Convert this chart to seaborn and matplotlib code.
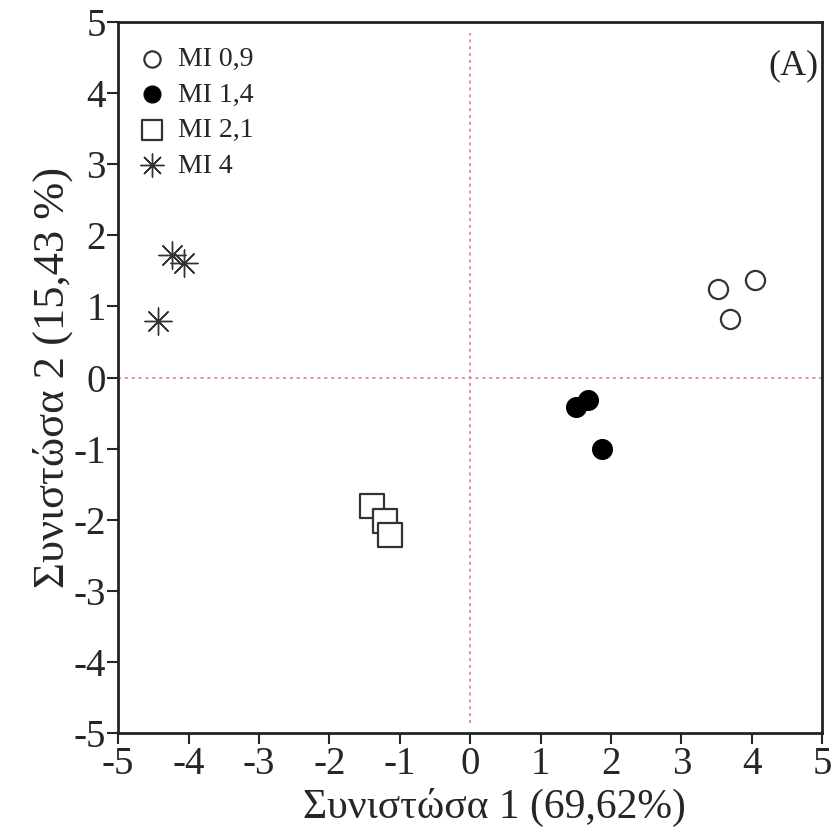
import matplotlib
matplotlib.use("Agg")
import matplotlib.pyplot as plt
import seaborn as sns
import pandas as pd

groups = ["MI 0,9", "MI 1,4", "MI 2,1", "MI 4"]
x_mi09 = [3.52, 4.05, 3.69]
y_mi09 = [1.24, 1.37, 0.83]
x_mi14 = [1.50, 1.68, 1.87]
y_mi14 = [-0.42, -0.31, -1.00]
x_mi21 = [-1.39, -1.21, -1.14]
y_mi21 = [-1.80, -2.01, -2.21]
x_mi4 = [-4.23, -4.06, -4.43]
y_mi4 = [1.72, 1.61, 0.80]
ticks = [-5, -4, -3, -2, -1, 0, 1, 2, 3, 4, 5]

xs = [x_mi09, x_mi14, x_mi21, x_mi4]
ys = [y_mi09, y_mi14, y_mi21, y_mi4]
rows = []
for g, xv, yv in zip(groups, xs, ys):
    for a, b in zip(xv, yv):
        rows.append({"g": g, "x": a, "y": b})
df = pd.DataFrame(rows)

sns.set_style("white")
plt.rcParams["font.family"] = ["Liberation Serif", "DejaVu Serif"]

fig = plt.figure(figsize=(8.38, 8.4), dpi=100)
ax = fig.add_axes([0.141, 0.127, 0.840, 0.847])

ax.axhline(0, color="#e0708a", linestyle=(0, (2, 2.5)), linewidth=1.1, zorder=1)
ax.axvline(0, color="#e0708a", linestyle=(0, (2, 2.5)), linewidth=1.1, zorder=1, ymax=0.985, ymin=0.015)

styles = {
    "MI 0,9": dict(marker="o", s=190, facecolor="white", edgecolor="#333333", linewidth=1.6),
    "MI 1,4": dict(marker="o", s=200, facecolor="black", edgecolor="black", linewidth=1.0),
    "MI 2,1": dict(marker="s", s=300, facecolor="white", edgecolor="#333333", linewidth=1.6),
    "MI 4": dict(marker=(8, 2, 0), s=380, color="#333333", linewidth=1.0),
}
for g in groups:
    sub = df[df["g"] == g]
    sns.scatterplot(data=sub, x="x", y="y", ax=ax, label=g, zorder=3, **styles[g])

ax.set_xlim(-5, 5)
ax.set_ylim(-5, 5)
ax.set_xticks(ticks)
ax.set_yticks(ticks)
ax.set_xticklabels([str(t) for t in ticks])
ax.set_yticklabels([str(t) for t in ticks])
ax.tick_params(axis="both", labelsize=28, direction="out", length=8, width=1.5,
               bottom=True, left=True, pad=1)
for sp in ax.spines.values():
    sp.set_linewidth(2)
    sp.set_color("#222222")

ax.set_xlabel("Συνιστώσα 1 (69,62%)", fontsize=30, labelpad=4, x=0.535)
ax.set_ylabel("Συνιστώσα 2 (15,43 %)", fontsize=32, labelpad=0)

leg = ax.legend(loc="upper left", bbox_to_anchor=(-0.011, 1.0), frameon=False,
                fontsize=20, handletextpad=0.35, labelspacing=0.36, borderaxespad=0.7,
                borderpad=0.2, handlelength=1.2, markerscale=0.85)
ax.text(0.995, 0.962, "(A)", transform=ax.transAxes, ha="right", va="top", fontsize=26)

fig.savefig("out.png", dpi=100)
